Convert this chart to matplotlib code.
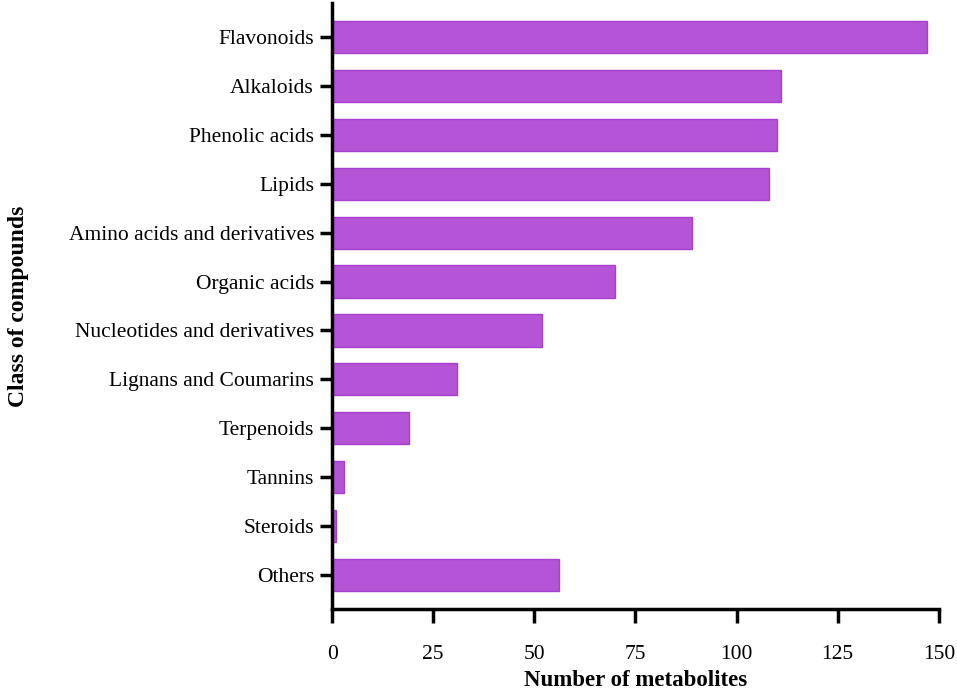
import matplotlib
matplotlib.use("Agg")
import matplotlib.pyplot as plt
import numpy as np

# compound classes, top to bottom
classes = ['Flavonoids', 'Alkaloids', 'Phenolic acids', 'Lipids',
           'Amino acids and derivatives', 'Organic acids',
           'Nucleotides and derivatives', 'Lignans and Coumarins',
           'Terpenoids', 'Tannins', 'Steroids', 'Others']
counts = [147, 111, 110, 108, 89, 70, 52, 31, 19, 3, 1, 56]
xticks = [0, 25, 50, 75, 100, 125, 150]

plt.rcParams['font.family'] = ['Liberation Serif', 'DejaVu Serif']

fig = plt.figure(figsize=(9.57, 6.91), dpi=100)
ax = fig.add_axes([0.347, 0.1186, 0.634, 0.877])

y = np.arange(len(classes))
ax.barh(y, counts, height=0.66, color='#b554d7', edgecolor='#a63fd0', linewidth=1)

ax.set_ylim(len(classes) - 1 + 0.7, -0.7)
ax.set_xlim(0, 150)
ax.set_yticks(y)
ax.set_yticklabels(classes, fontsize=15.5)
ax.set_xticks(xticks)
ax.set_xticklabels([str(t) for t in xticks], fontsize=15.5)

for s in ['top', 'right']:
    ax.spines[s].set_visible(False)
for s in ['left', 'bottom']:
    ax.spines[s].set_linewidth(2.5)

ax.tick_params(axis='y', length=9, width=2.5, pad=4)
ax.tick_params(axis='x', length=10, width=2.5, pad=16)

ax.set_xlabel('Number of metabolites', fontsize=16.5, fontweight='bold')
ax.set_ylabel('Class of compounds', fontsize=17, fontweight='bold')
ax.xaxis.set_label_coords(0.5, -0.1)
ax.yaxis.set_label_coords(-0.5, 0.5)

fig.savefig('out.png', dpi=100)
